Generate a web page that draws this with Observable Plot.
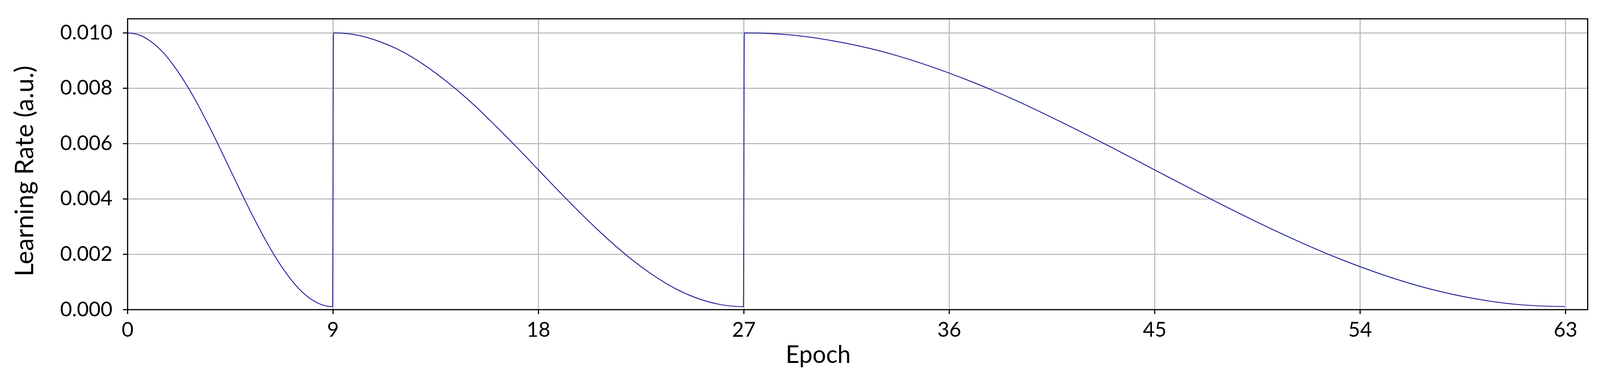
<!DOCTYPE html>
<html>
<head>
<meta charset="utf-8">
<script src="https://cdn.jsdelivr.net/npm/d3@7"></script>
<script src="https://cdn.jsdelivr.net/npm/@observablehq/plot@0.6"></script>
<style>
  html, body { margin: 0; padding: 0; background: #fff; }
  #chart svg { display: block; }
</style>
</head>
<body>
<div id="chart"></div>
<script>
// Epoch sample positions per warm-restart cycle
const epochsCycle1 = [0, 0.5, 1, 1.5, 2, 2.5, 3, 3.5, 4, 4.5, 5, 5.5, 6, 6.5, 7, 7.5, 8, 8.5, 8.98];
const epochsCycle2 = [9.02, 10, 11, 12, 13, 14, 15, 16, 17, 18, 19, 20, 21, 22, 23, 24, 25, 26, 26.98];
const epochsCycle3 = [27.02, 29, 31, 33, 35, 37, 39, 41, 43, 45, 47, 49, 51, 53, 55, 57, 59, 61, 62.95];

// Learning-rate readings at those positions
const lrCycle1 = [0.01000, 0.00993, 0.00970, 0.00934, 0.00884, 0.00823, 0.00753, 0.00674, 0.00591, 0.00505, 0.00419, 0.00336, 0.00258, 0.00187, 0.00126, 0.00076, 0.00040, 0.00018, 0.00011];
const lrCycle2 = [0.01000, 0.00993, 0.00970, 0.00934, 0.00884, 0.00823, 0.00753, 0.00674, 0.00591, 0.00505, 0.00419, 0.00336, 0.00258, 0.00187, 0.00126, 0.00076, 0.00040, 0.00018, 0.00011];
const lrCycle3 = [0.01000, 0.00993, 0.00970, 0.00934, 0.00884, 0.00823, 0.00753, 0.00674, 0.00591, 0.00505, 0.00419, 0.00336, 0.00258, 0.00187, 0.00126, 0.00076, 0.00040, 0.00018, 0.00011];

// Tick labels
const xTicks = [0, 9, 18, 27, 36, 45, 54, 63];
const yTicks = [0.000, 0.002, 0.004, 0.006, 0.008, 0.010];

const xLabel = "Epoch";
const yLabel = "Learning Rate (a.u.)";

const data = [
  ...epochsCycle1.map((e, i) => ({epoch: e, lr: lrCycle1[i]})),
  ...epochsCycle2.map((e, i) => ({epoch: e, lr: lrCycle2[i]})),
  ...epochsCycle3.map((e, i) => ({epoch: e, lr: lrCycle3[i]}))
];

const W = 4219, H = 992;
const mLeft = 336, mRight = 33, mTop = 49, mBottom = 177;

const chart = Plot.plot({
  width: W,
  height: H,
  marginLeft: mLeft,
  marginRight: mRight,
  marginTop: mTop,
  marginBottom: mBottom,
  style: {fontFamily: "Lato, 'Open Sans', sans-serif", color: "black", background: "white"},
  x: {domain: [0, 63.97]},
  y: {domain: [0, 0.01051]},
  marks: [
    Plot.gridX(xTicks, {stroke: "#b3b3b3", strokeOpacity: 1, strokeWidth: 2.6}),
    Plot.gridY(yTicks, {stroke: "#b3b3b3", strokeOpacity: 1, strokeWidth: 2.6}),
    Plot.line(data, {x: "epoch", y: "lr", stroke: "#1c1c98", strokeWidth: 2.3, curve: "monotone-x"}),
    Plot.frame({stroke: "black", strokeWidth: 3}),
    Plot.axisX(xTicks, {tickSize: 12, tickPadding: 21, strokeWidth: 3, fontSize: 54, label: null, tickFormat: d => String(d)}),
    Plot.axisY(yTicks, {tickSize: 12, tickPadding: 28, strokeWidth: 3, fontSize: 54, label: null, tickFormat: d3.format(".3f")}),
    Plot.text([xLabel], {text: d => d, frameAnchor: "bottom", textAnchor: "middle", dx: -104, dy: 140, lineAnchor: "bottom", fontSize: 63, fill: "black"}),
    Plot.text([yLabel], {text: d => d, frameAnchor: "left", textAnchor: "middle", rotate: -90, dx: -249, dy: 18, lineAnchor: "bottom", fontSize: 67, fill: "black"})
  ]
});

document.getElementById("chart").appendChild(chart);
</script>
</body>
</html>
